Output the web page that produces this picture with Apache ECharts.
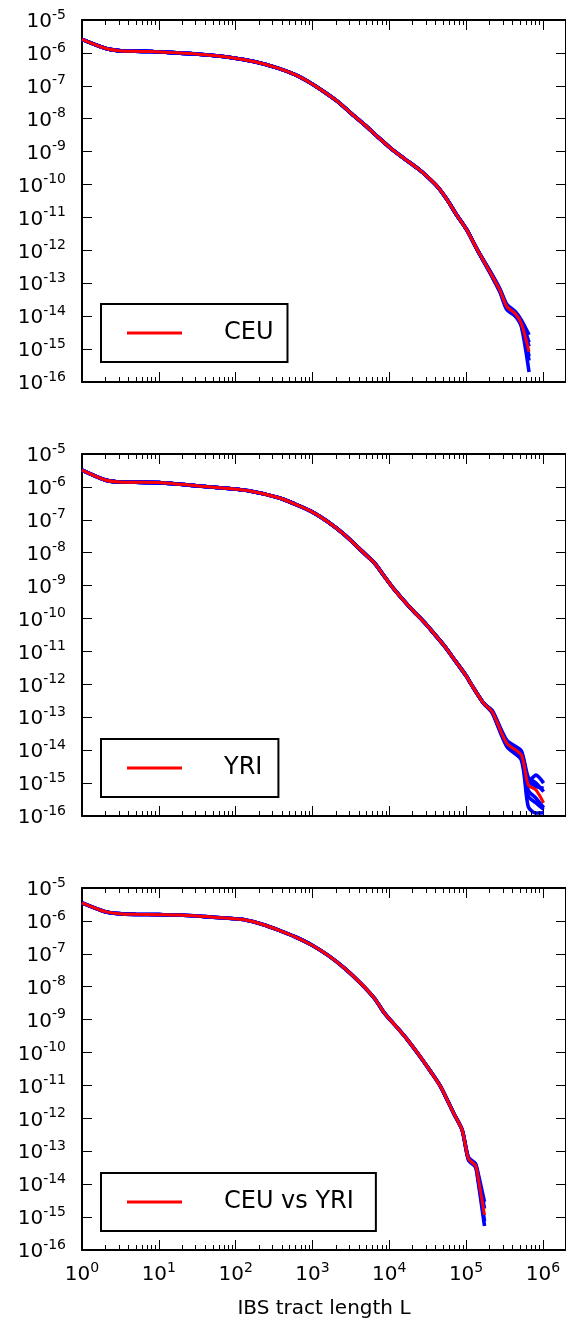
<!DOCTYPE html>
<html>
<head>
<meta charset="utf-8">
<script src="https://cdn.jsdelivr.net/npm/echarts@6/dist/echarts.min.js"></script>
<style>
html,body{margin:0;padding:0;background:#fff;}
#chart{width:566px;height:1320px;}
</style>
</head>
<body>
<div id="chart"></div>
<script>
// ---------- data ----------
const panelNames = ['CEU', 'YRI', 'CEU vs YRI'];
const xAxisTitle = 'IBS tract length L';

// CEU
const lengthsCEU = [1, 2, 3, 5, 8, 15, 33, 81, 178, 363, 603, 955, 1413, 2138, 3162, 4786, 7079, 10470, 15850, 23440, 31620, 42660, 56230, 75860, 102300, 141300, 204200, 275400, 338800, 436500, 524800, 660700];
const meanCEU = [2.57e-6, 1.38e-6, 1.17e-6, 1.12e-6, 1.10e-6, 1.02e-6, 9.12e-7, 7.41e-7, 5.37e-7, 3.39e-7, 2.14e-7, 1.20e-7, 6.61e-8, 3.31e-8, 1.48e-8, 6.46e-9, 2.82e-9, 1.26e-9, 6.03e-10, 3.09e-10, 1.70e-10, 8.51e-11, 3.55e-11, 1.17e-11, 4.17e-12, 1.00e-12, 2.24e-13, 6.17e-14, 1.95e-14, 1.20e-14, 6.03e-15, 8.32e-16];
// tails (last 6 points) of the individual blue curves
const tailsCEU = [
  [2.40e-13, 6.80e-14, 2.30e-14, 1.40e-14, 7.60e-15, 2.70e-15],
  [2.10e-13, 5.50e-14, 1.60e-14, 1.00e-14, 4.80e-15, 2.00e-16],
  [2.30e-13, 6.50e-14, 2.10e-14, 1.30e-14, 6.90e-15, 1.60e-15],
  [2.20e-13, 5.90e-14, 1.80e-14, 1.10e-14, 5.20e-15, 4.50e-16],
  [2.30e-13, 6.30e-14, 2.00e-14, 1.25e-14, 6.50e-15, 1.20e-15],
  [2.15e-13, 5.70e-14, 1.70e-14, 1.05e-14, 5.50e-15, 6.00e-16]
];

// YRI
const lengthsYRI = [1, 2, 3, 5, 10, 19, 33, 81, 148, 363, 603, 977, 1585, 2630, 4266, 6457, 8710, 11750, 19050, 28180, 38020, 51290, 67610, 102300, 114800, 169800, 218800, 338800, 524800, 645700, 812800, 1023000];
const meanYRI = [3.24e-6, 1.62e-6, 1.41e-6, 1.38e-6, 1.35e-6, 1.20e-6, 1.07e-6, 8.91e-7, 7.59e-7, 4.68e-7, 2.95e-7, 1.78e-7, 8.71e-8, 3.47e-8, 1.20e-8, 4.79e-9, 1.86e-9, 7.41e-10, 2.04e-10, 7.94e-11, 3.55e-11, 1.55e-11, 6.46e-12, 1.70e-12, 1.07e-12, 2.63e-13, 1.48e-13, 1.62e-14, 7.08e-15, 8.71e-16, 6.17e-16, 2.51e-16];
const tailsYRI = [
  [1.60e-13, 2.00e-14, 9.50e-15, 1.10e-15, 1.74e-15, 1.00e-15],
  [1.35e-13, 1.30e-14, 5.00e-15, 1.90e-16, 1.23e-16, 1.26e-16],
  [1.55e-13, 1.80e-14, 8.50e-15, 1.50e-15, 1.00e-15, 5.50e-16],
  [1.40e-13, 1.40e-14, 6.00e-15, 4.00e-16, 2.50e-16, 1.60e-16],
  [1.50e-13, 1.70e-14, 7.80e-15, 1.20e-15, 8.00e-16, 7.00e-16],
  [1.45e-13, 1.50e-14, 6.50e-15, 6.00e-16, 3.50e-16, 1.80e-16]
];

// CEU vs YRI
const lengthsCross = [1, 2, 3, 5, 10, 19, 40, 81, 135, 220, 363, 603, 977, 1585, 2630, 4266, 6457, 8710, 12880, 17380, 23440, 34670, 46770, 69180, 89130, 107200, 131800, 138000, 173800];
const meanCross = [3.55e-6, 1.91e-6, 1.66e-6, 1.58e-6, 1.55e-6, 1.51e-6, 1.35e-6, 1.20e-6, 1.07e-6, 7.94e-7, 5.25e-7, 3.24e-7, 1.86e-7, 9.12e-8, 3.63e-8, 1.26e-8, 4.37e-9, 1.55e-9, 5.50e-10, 2.40e-10, 9.55e-11, 2.63e-11, 9.12e-12, 1.41e-12, 4.37e-13, 6.03e-14, 3.80e-14, 2.69e-14, 1.15e-15];
const tailsCross = [
  [6.60e-14, 4.30e-14, 3.20e-14, 2.90e-15],
  [5.50e-14, 3.40e-14, 2.30e-14, 5.40e-16],
  [6.30e-14, 4.00e-14, 2.90e-14, 1.80e-15],
  [5.80e-14, 3.60e-14, 2.50e-14, 7.50e-16]
];

const panels = [
  {name: panelNames[0], L: lengthsCEU, mean: meanCEU, tails: tailsCEU},
  {name: panelNames[1], L: lengthsYRI, mean: meanYRI, tails: tailsYRI},
  {name: panelNames[2], L: lengthsCross, mean: meanCross, tails: tailsCross}
];

// ---------- layout ----------
const gridTops = [20, 454, 888];
const gridH = 362;
const legendBoxes = [
  {top: 304, right: 14},
  {top: 739, right: 16},
  {top: 1173, right: 22}
];
const FONT = 'DejaVu Sans';
const X_MIN = 1, X_MAX = 2e6, Y_MIN = 1e-16, Y_MAX = 1e-5;

// minor tick positions on the log x axis (2..9 x 10^d)
const minorX = [];
for (let d = 0; d <= 5; d++) for (let m = 2; m <= 9; m++) minorX.push([m * Math.pow(10, d), Y_MIN]);

function powLabel(v) {
  const lg = Math.log10(v);
  const e = Math.round(lg);
  if (Math.abs(lg - e) > 1e-6) return '';
  return '{b|10}{s|' + e + '}';
}
const powRich = {
  b: {fontSize: 20, height: 20, lineHeight: 24, verticalAlign: 'bottom', color: '#000', fontFamily: FONT},
  s: {fontSize: 14, height: 14, lineHeight: 14, verticalAlign: 'top', color: '#000', fontFamily: FONT}
};

const grids = [], xAxes = [], yAxes = [], series = [], legends = [];
const axisLineStyle = {color: '#000', width: 2};
const tickStyle = {color: '#000', width: 1};

panels.forEach((p, i) => {
  grids.push({left: 82, right: -4, top: gridTops[i], height: gridH, containLabel: false});
  const isLast = i === panels.length - 1;
  xAxes.push({
    type: 'log', logBase: 10, gridIndex: i, min: X_MIN, max: X_MAX, interval: 1, position: 'bottom',
    axisLine: {show: true, onZero: false, lineStyle: axisLineStyle},
    axisTick: {show: true, inside: true, length: 10, lineStyle: tickStyle},
    axisLabel: {show: isLast, margin: 11, formatter: powLabel, rich: powRich, showMaxLabel: false},
    splitLine: {show: false},
    name: isLast ? xAxisTitle : '', nameLocation: 'middle', nameGap: 49,
    nameTextStyle: {fontSize: 20, color: '#000', fontFamily: FONT}
  });
  yAxes.push({
    type: 'log', logBase: 10, gridIndex: i, min: Y_MIN, max: Y_MAX, interval: 1, position: 'left',
    axisLine: {show: true, onZero: false, lineStyle: axisLineStyle},
    axisTick: {show: true, inside: true, length: 10, lineStyle: tickStyle},
    axisLabel: {show: true, margin: 16, formatter: powLabel, rich: powRich},
    splitLine: {show: false}
  });
});
panels.forEach((p, i) => {
  xAxes.push({
    type: 'log', logBase: 10, gridIndex: i, min: X_MIN, max: X_MAX, interval: 1, position: 'top',
    axisLine: {show: true, onZero: false, lineStyle: axisLineStyle},
    axisTick: {show: true, inside: true, length: 10, lineStyle: tickStyle},
    axisLabel: {show: false}, splitLine: {show: false}
  });
  yAxes.push({
    type: 'log', logBase: 10, gridIndex: i, min: Y_MIN, max: Y_MAX, interval: 1, position: 'right',
    axisLine: {show: true, onZero: false, lineStyle: axisLineStyle},
    axisTick: {show: true, inside: true, length: 10, lineStyle: tickStyle},
    axisLabel: {show: false}, splitLine: {show: false}
  });
});

panels.forEach((p, i) => {
  const n = p.mean.length;
  p.tails.forEach((tail, k) => {
    const vals = p.mean.slice(0, n - tail.length).concat(tail);
    series.push({
      type: 'line', name: p.name + ' replicate ' + (k + 1), xAxisIndex: i, yAxisIndex: i,
      data: p.L.map((L, j) => [L, vals[j]]),
      showSymbol: false, symbol: 'none', silent: true, smooth: 0.25,
      lineStyle: {color: '#0000ff', width: 3.6}, itemStyle: {color: '#0000ff'}, z: 2
    });
  });
  series.push({
    type: 'line', name: p.name, xAxisIndex: i, yAxisIndex: i,
    data: p.L.map((L, j) => [L, p.mean[j]]),
    showSymbol: false, symbol: 'none', silent: true, smooth: 0.25,
    lineStyle: {color: '#ff0000', width: 3}, itemStyle: {color: '#ff0000'}, z: 3
  });
  // minor ticks on bottom and top spines
  series.push({
    type: 'custom', xAxisIndex: i, yAxisIndex: i, silent: true, clip: false, z: 5,
    data: minorX,
    renderItem: function (params, api) {
      const v = api.value(0);
      const b = api.coord([v, Y_MIN]);
      const t = api.coord([v, Y_MAX]);
      const x = Math.round(b[0]) + 0.5;
      return {type: 'group', children: [
        {type: 'line', shape: {x1: x, y1: b[1], x2: x, y2: b[1] - 5}, style: {stroke: '#000', lineWidth: 1}},
        {type: 'line', shape: {x1: x, y1: t[1], x2: x, y2: t[1] + 5}, style: {stroke: '#000', lineWidth: 1}}
      ]};
    }
  });
  legends.push({
    data: [p.name], left: 101, top: legendBoxes[i].top, orient: 'horizontal',
    backgroundColor: '#fff', borderColor: '#000', borderWidth: 2, borderRadius: 0,
    padding: [17, legendBoxes[i].right, 17, 26], itemWidth: 55, itemHeight: 3, itemGap: 0,
    icon: 'rect', selectedMode: false,
    textStyle: {fontSize: 24, color: '#000', fontFamily: FONT, padding: [0, 0, 0, 37]}
  });
});

const chart = echarts.init(document.getElementById('chart'), null, {renderer: 'canvas'});
chart.setOption({
  animation: false,
  backgroundColor: '#fff',
  textStyle: {fontFamily: FONT},
  grid: grids,
  xAxis: xAxes,
  yAxis: yAxes,
  legend: legends,
  series: series
});
</script>
</body>
</html>
